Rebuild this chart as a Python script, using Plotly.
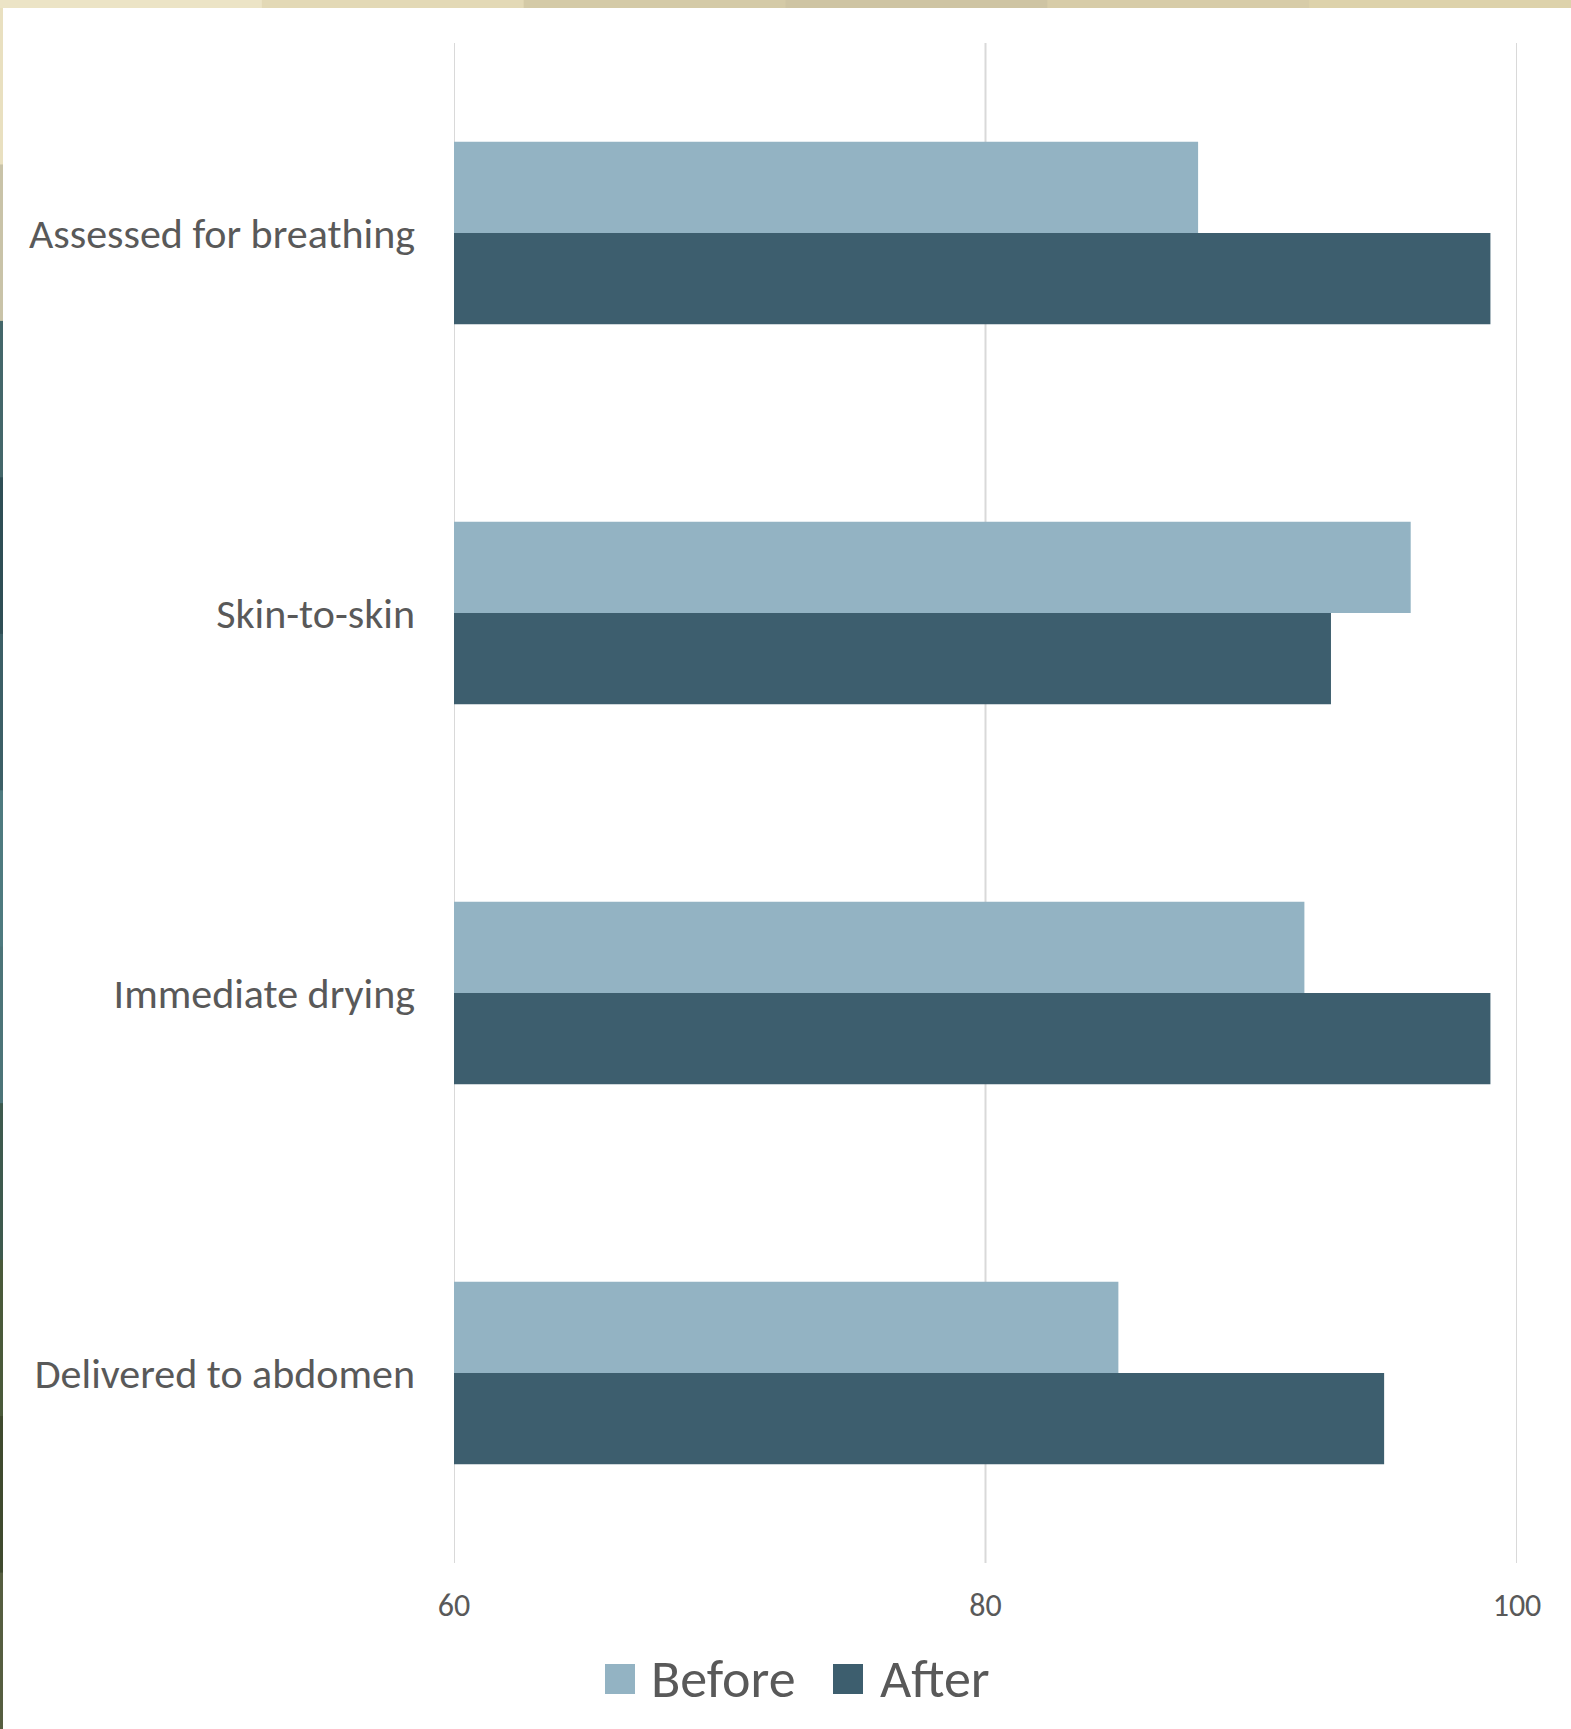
import plotly.graph_objects as go

# Share of newborns receiving each care practice, before and after the intervention (%)
categories = ["Assessed for breathing", "Skin-to-skin", "Immediate drying", "Delivered to abdomen"]
before = [88, 96, 92, 85]
after = [99, 93, 99, 95]
series_names = ["Before", "After"]
series_colors = ["#93B3C3", "#3D5E6E"]
x_ticks = [60, 80, 100]

TEXT = "#595959"
FONT = "Carlito, Lato, sans-serif"

fig = go.Figure()
for name, vals, col in zip(series_names, [before, after], series_colors):
    fig.add_trace(go.Bar(
        name=name, y=categories, x=vals, orientation="h",
        marker=dict(color=col, line=dict(width=0)),
        showlegend=False,
    ))

W, H = 1571, 1729
ML, MR, MT, MB = 454, 54, 43, 166

fig.update_layout(
    width=W, height=H,
    margin=dict(l=ML, r=MR, t=MT, b=MB),
    paper_bgcolor="white", plot_bgcolor="white",
    barmode="group", bargap=0.52, bargroupgap=0,
    font=dict(family=FONT, color=TEXT),
    xaxis=dict(
        range=[60, 100], tickvals=x_ticks, ticktext=[str(v) for v in x_ticks],
        showgrid=False, zeroline=False, showline=False,
        tickfont=dict(size=32, color=TEXT), ticks="", ticklabelstandoff=20,
    ),
    yaxis=dict(
        autorange="reversed", showgrid=False, zeroline=False, showline=False,
        tickfont=dict(size=42, color=TEXT), ticks="", ticklabelstandoff=38,
    ),
)

# Vertical gridlines at every tick, including the two range edges
for v in x_ticks:
    fig.add_vline(x=v, line=dict(color="#D9D9D9", width=2), layer="below")

# Legend drawn as swatches with labels below the plot
legend_items = [(605, 649), (833, 878)]
legend_yc = 1679
sw = 30
PW, PH = W - ML - MR, H - MT - MB
for (sx, tx), name, col in zip(legend_items, series_names, series_colors):
    fig.add_shape(type="rect", xref="paper", yref="paper",
                  x0=(sx - ML) / PW, x1=(sx + sw - ML) / PW,
                  y0=(H - MB - (legend_yc + sw / 2)) / PH,
                  y1=(H - MB - (legend_yc - sw / 2)) / PH,
                  fillcolor=col, line=dict(width=0), layer="above")
    fig.add_annotation(xref="paper", yref="paper",
                       x=(tx - ML) / PW, y=(H - MB - legend_yc) / PH,
                       xanchor="left", yanchor="middle", showarrow=False,
                       text=name, font=dict(size=54, color=TEXT, family=FONT))

# Slide frame: thin strip along the top and left edges
def px_rect(x0, y0, x1, y1, color):
    fig.add_shape(type="rect", xref="paper", yref="paper",
                  x0=(x0 - ML) / PW, x1=(x1 - ML) / PW,
                  y0=(H - MB - y1) / PH, y1=(H - MB - y0) / PH,
                  fillcolor=color, line=dict(width=0), layer="above")

top_colors = ["#ECE4C6", "#E3D9B6", "#D4CAA7", "#CEC4A3", "#D7CCA8", "#DDD2AB"]
seg = W / len(top_colors)
for i, c in enumerate(top_colors):
    px_rect(i * seg, 0, (i + 1) * seg + 1, 8, c)

left_colors = ["#E9E0C0", "#C9C3A8", "#44676A", "#2F4E55", "#3C5F66", "#4E7A7F",
               "#4C7478", "#3E5A4E", "#4A5A3A", "#3F4A2E", "#565E40"]
lseg = (H - 8) / len(left_colors)
for i, c in enumerate(left_colors):
    px_rect(0, 8 + i * lseg, 3, 8 + (i + 1) * lseg + 1, c)

fig.write_html("out.html")
